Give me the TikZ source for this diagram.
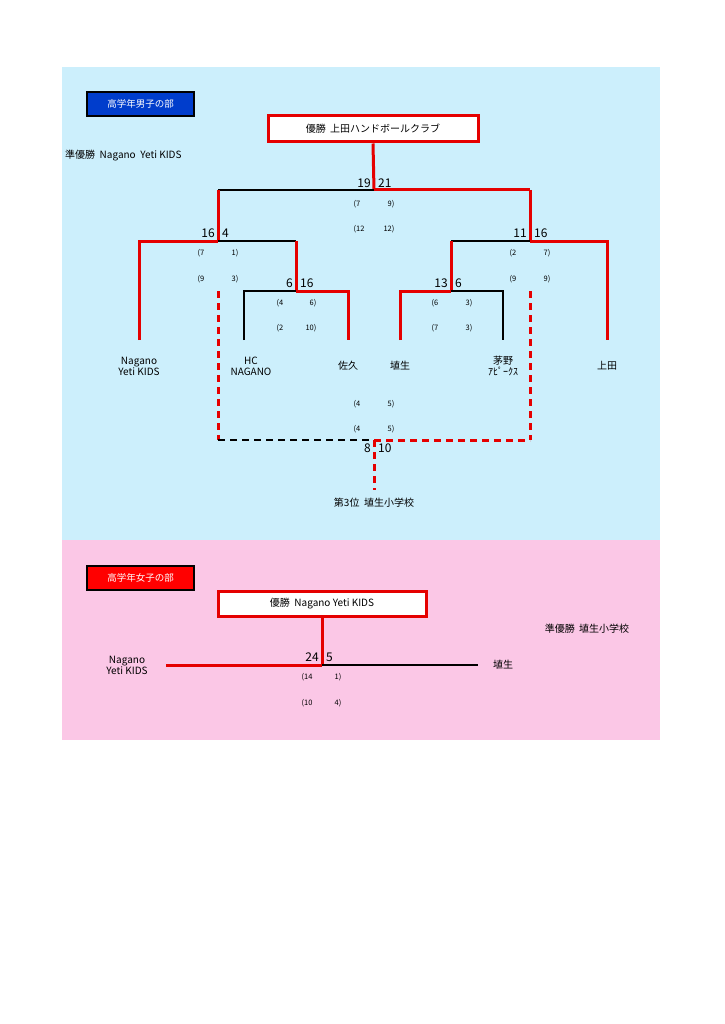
\documentclass[tikz,border=0pt]{standalone}
\usepackage{fontspec}
\setmainfont{Noto Sans CJK JP}
\begin{document}
\begin{tikzpicture}[x=1pt,y=-1pt,
  rl/.style={draw=red!90!black,line width=3pt},
  bl/.style={draw=black,line width=2pt},
  rd/.style={rl,dashed,dash pattern=on 7pt off 5pt},
  bd/.style={bl,dashed,dash pattern=on 7pt off 5pt},
  sc/.style={font=\fontsize{12}{12}\selectfont,inner sep=0pt},
  pr/.style={font=\fontsize{7.5}{8}\selectfont,inner sep=0pt},
  nm/.style={font=\fontsize{10}{11}\selectfont,align=center,inner sep=0pt},
  lab/.style={draw=black,line width=2pt,text=white,font=\fontsize{9.5}{10}\selectfont,minimum width=107pt,minimum height=24pt,inner sep=0pt},
  win/.style={draw=red!90!black,line width=3pt,fill=white,font=\fontsize{10}{11}\selectfont,inner sep=0pt}]
\useasboundingbox (0,0) rectangle (724,1024);
\fill[white] (0,0) rectangle (724,1024);
\fill[cyan!20] (62,67) rectangle (660,540);
\fill[magenta!22] (62,540) rectangle (660,740);
% boys
\node[lab,fill=blue!70!cyan!80!black] (bt) at (140.5,104) {高学年男子の部};
\node[win,minimum width=210pt,minimum height=26pt] (bw) at (373,129) {優勝\ \ 上田ハンドボールクラブ};
\node[nm,anchor=west] (bru) at (65,156) {準優勝\ \ Nagano\ \ Yeti KIDS};
\coordinate (t) at (374,190);
\coordinate (l) at (218,190); \coordinate (r) at (530,190);
\coordinate (l1) at (218,241); \coordinate (r1) at (530,241);
\draw[rl] (bw.south) -- (t);
\draw[bl] (l) -- (t); \draw[rl] (t) -- (r);
\draw[rl] (l) -- (l1); \draw[rl] (r) -- (r1);
\draw[rl] (139,340) -- (139,241) -- (l1); \draw[bl] (l1) -- (296,241);
\draw[rl] (296,241) -- (296,291);
\draw[bl] (244,340) -- (244,291) -- (296,291); \draw[rl] (296,291) -- (348,291) -- (348,340);
\draw[bl] (451,241) -- (r1); \draw[rl] (r1) -- (607,241) -- (607,340);
\draw[rl] (451,241) -- (451,291);
\draw[rl] (400,340) -- (400,291) -- (451,291); \draw[bl] (451,291) -- (503,291) -- (503,340);
% third place
\coordinate (tp) at (374,440);
\draw[rd] (218,291) -- (218,440); \draw[rd] (530,291) -- (530,440);
\draw[bd] (218,440) -- (tp); \draw[rd] (tp) -- (530,440);
\node[nm] (third) at (374,503) {第3位\ \ 埴生小学校};
\draw[rd] (tp) -- (374,490);
% scores
\node[sc,anchor=east] at (371,183) {19}; \node[sc,anchor=west] at (378,183) {21};
\node[pr] at (357,204) {(7}; \node[pr] at (391,204) {9)};
\node[pr] at (359,229) {(12}; \node[pr] at (389,229) {12)};
\node[sc,anchor=east] at (215,233) {16}; \node[sc,anchor=west] at (222,233) {4};
\node[pr] at (201,253) {(7}; \node[pr] at (235,253) {1)};
\node[pr] at (201,279) {(9}; \node[pr] at (235,279) {3)};
\node[sc,anchor=east] at (293,283) {6}; \node[sc,anchor=west] at (300,283) {16};
\node[pr] at (280,303) {(4}; \node[pr] at (313,303) {6)};
\node[pr] at (280,328) {(2}; \node[pr] at (311,328) {10)};
\node[sc,anchor=east] at (527,233) {11}; \node[sc,anchor=west] at (534,233) {16};
\node[pr] at (513,253) {(2}; \node[pr] at (547,253) {7)};
\node[pr] at (513,279) {(9}; \node[pr] at (547,279) {9)};
\node[sc,anchor=east] at (448,283) {13}; \node[sc,anchor=west] at (455,283) {6};
\node[pr] at (435,303) {(6}; \node[pr] at (469,303) {3)};
\node[pr] at (435,328) {(7}; \node[pr] at (469,328) {3)};
\node[pr] at (357,404) {(4}; \node[pr] at (391,404) {5)};
\node[pr] at (357,429) {(4}; \node[pr] at (391,429) {5)};
\node[sc,anchor=east] at (371,448) {8}; \node[sc,anchor=west] at (378,448) {10};
% names
\node[nm] (n1) at (139,366) {Nagano\\Yeti KIDS};
\node[nm] (n2) at (251,366) {HC\\NAGANO};
\node[nm] (n3) at (348,366) {佐久};
\node[nm] (n4) at (400,366) {埴生};
\node[nm] (n5) at (503,366) {茅野\\ｱﾋﾟｰｸｽ};
\node[nm] (n6) at (607,366) {上田};
% girls
\node[lab,fill=red] (gt) at (140.5,578) {高学年女子の部};
\node[win,minimum width=208pt,minimum height=25pt] (gw) at (322,603.5) {優勝\ \ Nagano Yeti KIDS};
\node[nm] (gru) at (587,629) {準優勝\ \ 埴生小学校};
\coordinate (gc) at (322,665);
\draw[rl] (gw.south) -- (gc);
\draw[rl] (166,665) -- (gc); \draw[bl] (gc) -- (478,665);
\node[sc,anchor=east] at (319,657) {24}; \node[sc,anchor=west] at (326,657) {5};
\node[pr] at (307,677) {(14}; \node[pr] at (338,677) {1)};
\node[pr] at (307,703) {(10}; \node[pr] at (338,703) {4)};
\node[nm] (g1) at (127,665) {Nagano\\Yeti KIDS};
\node[nm] (g2) at (503,665) {埴生};
\end{tikzpicture}
\end{document}
